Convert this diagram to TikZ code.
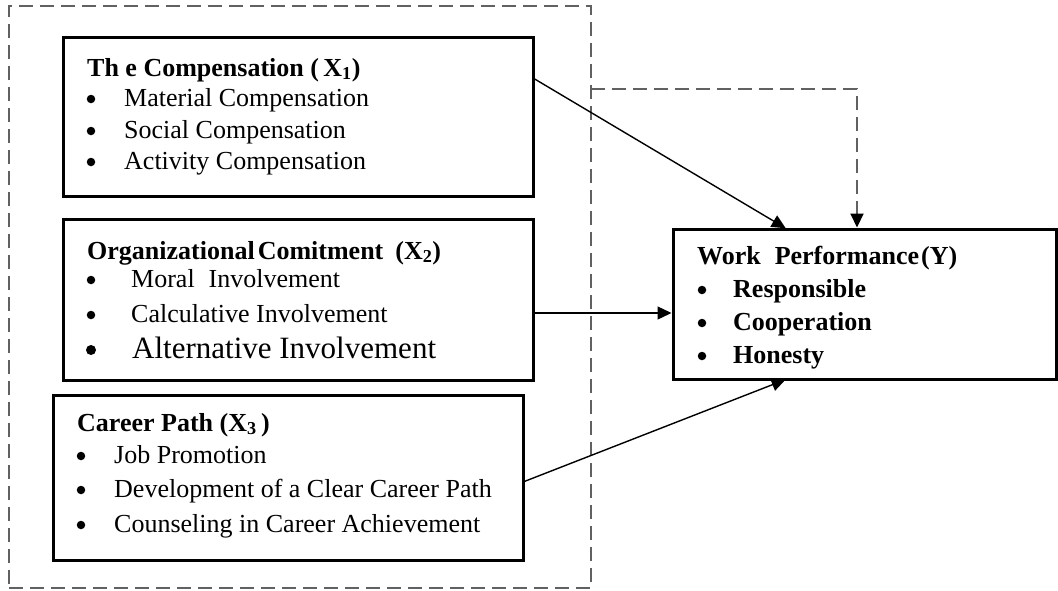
\documentclass[tikz,border=0pt]{standalone}
\usepackage{fontspec}
\setmainfont{Liberation Serif}
\usetikzlibrary{arrows.meta,calc}

\begin{document}
\begin{tikzpicture}[x=1pt,y=-1pt,
	box/.style={draw=black, line width=3pt, rectangle, inner sep=0pt, outer sep=0pt, anchor=north west},
	grp/.style={draw=black!62, line width=2pt, dash pattern=on 14pt off 7pt, rectangle, inner sep=0pt, outer sep=0pt, anchor=north west},
	txt/.style={anchor=base west, inner sep=0pt, font=\fontsize{26}{31}\selectfont},
	bul/.style={circle, fill=black, inner sep=0pt, minimum size=8.5pt},
	arr/.style={line width=1.4pt, shorten >=1.5pt, -{Triangle[length=14pt,width=13pt]}},
	darr/.style={draw=black!62, line width=2pt, dash pattern=on 14pt off 7pt, shorten >=1.5pt, -{Triangle[length=14pt,width=13pt,color=black]}}]
		\useasboundingbox (0,0) rectangle (1058,590);
		
		% dashed group round the three variables
		\node[grp, minimum width=582pt, minimum height=582pt] (group) at (9,6) {};
		
		\node[box, minimum width=470pt, minimum height=159pt] (comp) at (63,37) {};
		\node[box, minimum width=470pt, minimum height=161pt] (comit) at (63,219) {};
		\node[box, minimum width=470pt, minimum height=165pt] (career) at (53,395) {};
		\node[box, minimum width=383pt, minimum height=150pt] (wp) at (673,229) {};
		
		\node[txt] (comp0) at (87,76) {\textbf{Th e Compensation (\,X\textsubscript{1})}};
		\node[bul] (compb1) at (91,99) {};
		\node[bul] (compb2) at (91,131) {};
		\node[bul] (compb3) at (91,162) {};
		\node[txt] (comp1) at (124,106) {Material Compensation};
		\node[txt] (comp2) at (124,138) {Social Compensation};
		\node[txt] (comp3) at (124,169) {Activity Compensation};
		
		\node[txt] (comit0) at (87,259) {\textbf{Organizational\hspace{3pt}Comitment\hspace{12pt}(X\textsubscript{2})}};
		\node[bul] (comitb1) at (91,280) {};
		\node[bul] (comitb2) at (91,315) {};
		\node[bul, minimum size=10pt] (comitb3) at (91,350) {};
		\node[txt] (comit1) at (131,287) {Moral\hspace{14pt}Involvement};
		\node[txt] (comit2) at (131,322) {Calculative Involvement};
		\node[txt, font=\fontsize{31}{36}\selectfont] (comit3) at (132,358) {Alternative Involvement};
		
		\node[txt] (career0) at (77,431) {\textbf{Career Path (X\textsubscript{3}\,)}};
		\node[bul] (careerb1) at (81,456) {};
		\node[bul] (careerb2) at (81,490) {};
		\node[bul] (careerb3) at (81,525) {};
		\node[txt] (career1) at (114,463) {Job Promotion};
		\node[txt] (career2) at (114,497) {Development of a Clear Career Path};
		\node[txt] (career3) at (114,532) {Counseling in Career Achievement};
		
		\node[txt] (wp0) at (697,264) {\textbf{Work\hspace{14pt}Performance\hspace{2pt}(Y)}};
		\node[bul] (wpb1) at (702,290) {};
		\node[bul] (wpb2) at (702,323) {};
		\node[bul] (wpb3) at (702,356) {};
		\node[txt] (wp1) at (733,297) {\textbf{Responsible}};
		\node[txt] (wp2) at (733,330) {\textbf{Cooperation}};
		\node[txt] (wp3) at (733,363) {\textbf{Honesty}};
		
		% connectors
		\draw[arr] ($(comp.north east)+(0,41)$) -- ($(wp.north west)+(114,0)$);
		\draw[arr] ($(comit.north east)+(0,94)$) coordinate (c2) -- (c2 -| wp.west);
		\draw[arr] ($(career.north east)+(0,87)$) -- ($(wp.south west)+(114,0)$);
		\draw[darr] ($(group.north east)+(0,83)$) -| ($(wp.north west)+(184,0)$);
	\end{tikzpicture}
\end{document}
